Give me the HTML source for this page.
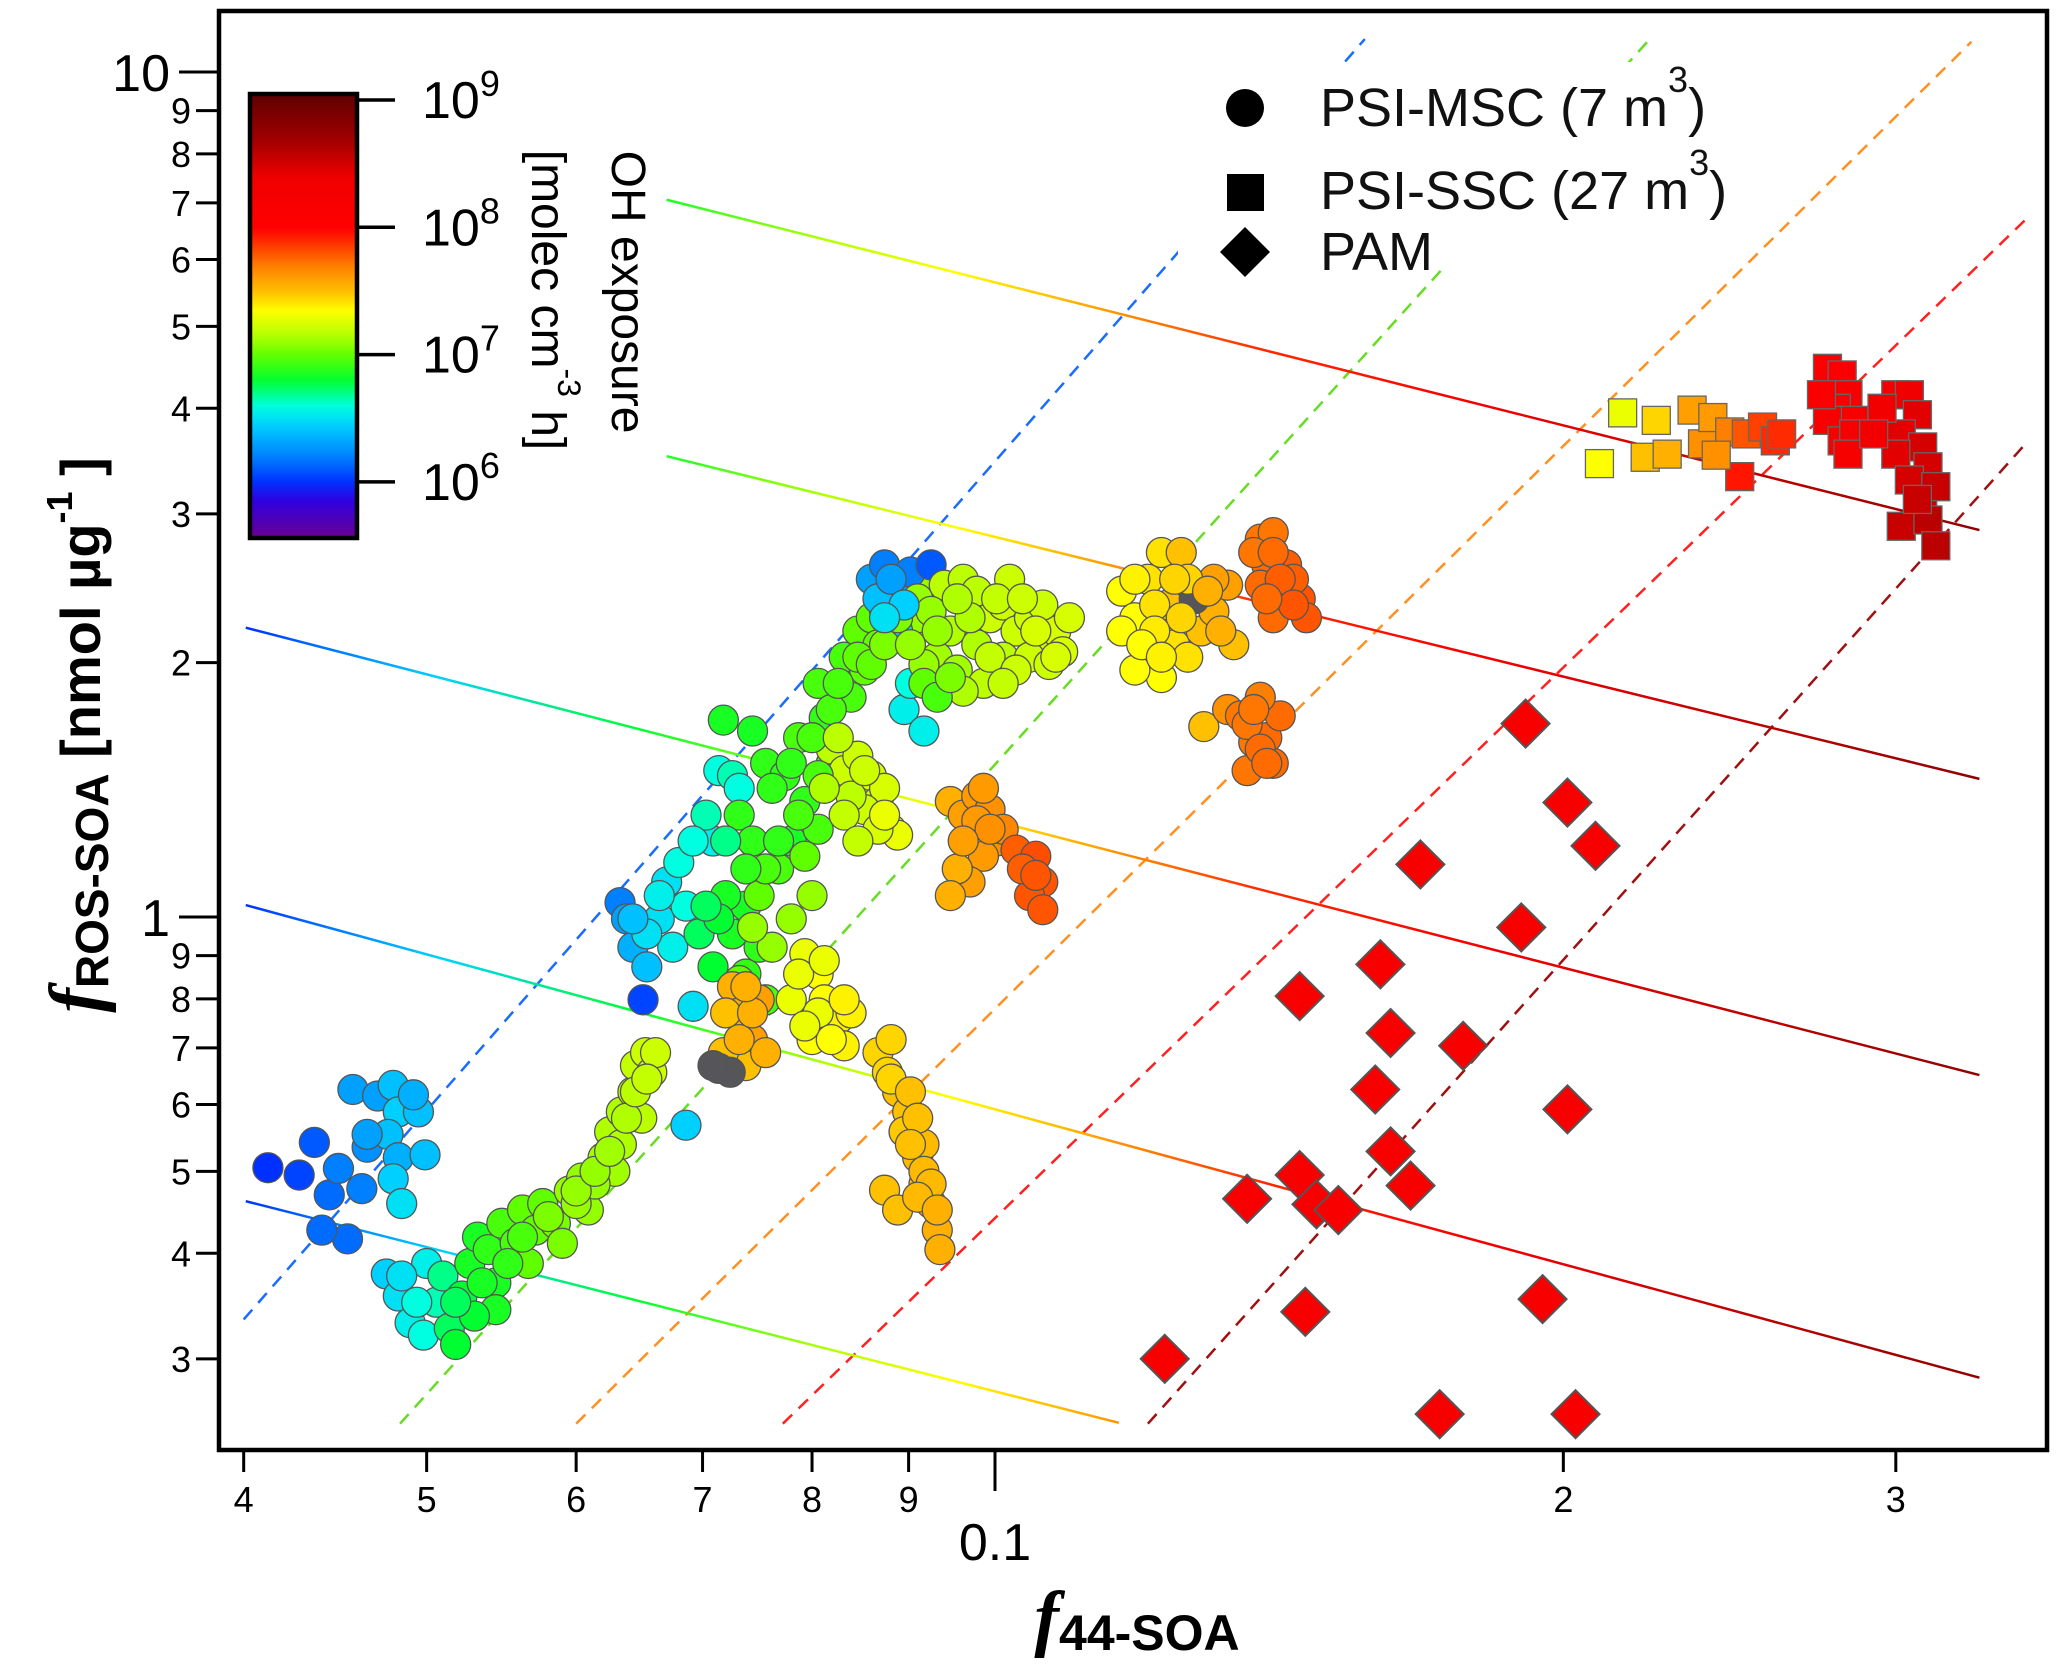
<!DOCTYPE html>
<html><head><meta charset="utf-8"><style>
html,body{margin:0;padding:0;background:#fff;}
svg{display:block;font-family:"Liberation Sans",sans-serif;}
</style></head><body>
<svg id="chart" width="2067" height="1664" viewBox="0 0 2067 1664" xmlns="http://www.w3.org/2000/svg">
<defs>
<clipPath id="plotclip"><rect x="221" y="13" width="1824" height="1435"/></clipPath>
<linearGradient id="cbgrad" x1="0" y1="1" x2="0" y2="0"></linearGradient>
<linearGradient id="linegrad" gradientUnits="userSpaceOnUse" x1="245" y1="0" x2="1990" y2="0"></linearGradient>
</defs>
<rect x="0" y="0" width="2067" height="1664" fill="#fff"/>
<g id="lines" clip-path="url(#plotclip)"></g>
<rect x="1178" y="62" width="544" height="205" fill="#fff"/>
<g id="points" clip-path="url(#plotclip)"></g>
<rect x="219" y="11" width="1828" height="1439" fill="none" stroke="#000" stroke-width="4.5"/>
<g id="xaxis"></g>
<g id="yaxis"></g>
<text x="1137" y="1642" text-anchor="middle"><tspan font-family="Liberation Serif,serif" font-style="italic" font-weight="bold" font-size="74">f</tspan><tspan font-weight="bold" font-size="50" dy="8">44-SOA</tspan></text>
<text transform="translate(100,735) rotate(-90)" text-anchor="middle" font-weight="bold"><tspan font-family="Liberation Serif,serif" font-style="italic" font-size="74">f</tspan><tspan font-size="46" dy="8">ROS-SOA</tspan><tspan font-size="56" dy="-8"> [nmol µg</tspan><tspan font-size="36" dy="-28">-1</tspan><tspan font-size="56" dy="28"> ]</tspan></text>
<g id="colorbar"></g>
<text transform="translate(612,292) rotate(90)" text-anchor="middle" font-size="48" fill="#000">OH exposure</text>
<text transform="translate(532,300) rotate(90)" text-anchor="middle" font-size="48" fill="#000">[molec cm<tspan font-size="32" dy="-26">-3</tspan><tspan dy="26"> h]</tspan></text>
<g>
<circle cx="1245" cy="108" r="19" fill="#000"/>
<text x="1320" y="126" font-size="54" fill="#111">PSI-MSC (7 m<tspan font-size="36" dy="-34">3</tspan><tspan dy="34">)</tspan></text>
<rect x="1227" y="174" width="37" height="37" fill="#000"/>
<text x="1320" y="209" font-size="54" fill="#111">PSI-SSC (27 m<tspan font-size="36" dy="-34">3</tspan><tspan dy="34">)</tspan></text>
<polygon points="1245,227 1270,252 1245,277 1220,252" fill="#000"/>
<text x="1320" y="270" font-size="54" fill="#111">PAM</text>
</g>
</svg>
<script>
// ---- data ----
const xTicks = [0.04,0.05,0.06,0.07,0.08,0.09,0.1,0.2,0.3];
const xTickLabels = ['4','5','6','7','8','9','0.1','2','3'];
const yTicks = [0.3,0.4,0.5,0.6,0.7,0.8,0.9,1,2,3,4,5,6,7,8,9,10];
const yTickLabels = ['3','4','5','6','7','8','9','1','2','3','4','5','6','7','8','9','10'];
const cbTicks = [6,7,8,9];
const cbTickLabels = ['6','7','8','9'];

const mscF44Main = [
.0412,.0428,.0436,.0444,.0449,.0454,.0440,.0462,.0465,.0457,.0471,.0480,.0483,.0477,.0483,.0480,.0485,.0495,.0499,.0465,.0492,
.0476,.0483,.0490,.0498,.0500,.0506,.0514,.0518,.0510,.0522,.0527,.0532,.0539,.0544,.0548,.0557,.0562,.0571,.0576,.0585,.0595,.0604,.0609,.0620,.0625,.0634,.0634,.0643,.0645,.0653,.0658,.0661,.0650,.0629,.0590,.0566,.0544,.0614,.0600,.0530,.0494,
.0633,.0638,.0643,.0654,.0651,.0664,.0670,.0680,.0686,.0675,.0692,.0709,.0714,.0726,.0732,.0697,.0709,.0726,.0738,.0738,.0750,.0756,.0686,
.0718,.0744,.0756,.0774,.0787,.0793,.0780,.0768,.0806,.0812,.0819,.0832,.0846,.0860,.0874,.0888,.0902,.0910,.0917,.0839,.0853,.0867,.0793,.0800,.0750,.0780,.0762,.0744,.0732,.0806,
.0860,.0874,.0888,.0902,.0925,.0867,.0888,.0895,.0917,.0902,
.0940,.0962,.0978,.0994,.1010,.1026,.1043,.1060,.1077,.1086,.0947,.0978,.1010,.1043,.1068,.0932,.0955,.0917,.1018,.1060,.0986,.0962,
.0819,.0832,.0846,.0860,.0867,.0881,.0888,.0874,.0853,.0839,
.0726,.0732,.0744,.0738,.0750,.0756,.0718,.0714,.0724,.0709,
.0793,.0806,.0812,.0826,.0832,.0800,.0806,.0839,.0780,
.0867,.0877,.0888,.0899,.0902,.0910,.0917,.0925,.0932,.0935,.0874,.0888,.0895,.0917,.0881,
.0947,.0962,.0978,.0994,.1002,.0986,.0970,.0955,.0947,.1010,.1026,.1051,.1060,.1043,.1060,
.1167,.1186,.1205,.1225,.1235,.1245,.1205,.1225,.1265,.1286,.1306,.1328,.1306,.1338,.1275,.1186,.1255,.1167,.1265,
.1382,.1404,.1393,.1427,.1416,.1451,.1462,.1404,.1382,.1439,
.1290,.1328,.1349,.1371,.1393,.1404,.1360,.1416,.1382];
const mscFrosMain = [
.505,.495,.541,.469,.504,.416,.426,.477,.534,.625,.614,.632,.588,.553,.519,.490,.458,.588,.523,.553,.616,
.378,.356,.331,.320,.389,.350,.326,.312,.376,.356,.389,.418,.404,.369,.434,.411,.450,.426,.458,.434,.474,.491,.450,.519,.557,.538,.588,.621,.667,.691,.655,.691,.578,.500,.411,.389,.343,.483,.458,.337,.350,
1.04,.995,.921,.873,.798,.995,1.10,1.16,1.03,.921,.784,1.23,1.49,1.47,1.42,.955,.873,.955,1.03,.856,.921,.798,.567,
1.71,1.66,1.52,1.47,1.63,1.37,1.23,1.14,1.89,1.72,1.52,2.03,2.18,2.26,2.30,2.38,2.47,2.26,2.51,1.82,1.96,2.10,1.18,1.06,1.06,.995,.921,.972,.841,1.27,
2.51,2.61,2.47,2.56,2.61,2.38,2.18,1.76,1.66,1.89,
2.47,2.51,2.43,2.26,2.34,2.18,2.26,2.10,2.18,2.06,2.18,2.10,2.03,2.03,1.99,2.03,1.96,1.99,2.51,2.34,1.89,1.85,
1.58,1.49,1.55,1.47,1.37,1.27,1.25,1.42,1.34,1.39,
.827,.770,.716,.667,.798,.691,.691,.662,.655,.667,
.905,.856,.798,.757,.704,.716,.770,.770,.798,
.691,.655,.621,.588,.557,.519,.483,.458,.426,.404,.475,.450,.557,.538,.716,
1.37,1.32,1.39,1.34,1.23,1.18,1.10,1.14,1.06,1.27,1.20,1.18,1.10,1.06,1.02,
2.43,2.26,2.51,2.70,2.34,2.10,2.03,1.92,2.03,2.18,2.30,2.47,2.51,2.10,2.38,1.96,2.70,2.18,2.51,
2.80,2.85,2.61,2.61,2.43,2.38,2.26,2.26,2.47,2.51,
1.68,1.76,1.73,1.61,1.63,1.52,1.49,1.73,1.82];
const mscExpMain = [
6.0,6.05,6.1,6.15,6.2,6.15,6.15,6.2,6.25,6.3,6.3,6.4,6.45,6.4,6.35,6.45,6.5,6.4,6.4,6.3,6.35,
6.45,6.5,6.55,6.6,6.55,6.65,6.75,6.8,6.7,6.8,6.85,6.85,6.9,6.85,6.95,6.95,7.0,7.0,7.0,7.05,7.1,7.1,7.1,7.12,7.15,7.15,7.15,7.18,7.2,7.22,7.22,7.22,7.18,7.12,7.05,7.0,6.85,7.1,7.1,6.8,6.6,
6.2,6.3,6.35,6.4,6.05,6.5,6.5,6.6,6.6,6.55,6.5,6.55,6.6,6.65,6.6,6.75,6.8,6.85,6.85,6.9,6.9,6.95,6.45,
6.85,6.85,6.9,6.9,6.95,6.9,6.85,6.95,6.95,6.9,6.95,6.95,7.0,7.0,7.0,7.0,7.05,7.1,7.1,6.95,7.0,7.0,7.0,7.1,7.0,7.1,7.1,7.1,7.0,6.95,
6.3,6.2,6.3,6.2,6.1,6.4,6.5,6.55,6.55,6.6,
7.18,7.18,7.18,7.22,7.22,7.22,7.22,7.25,7.25,7.25,7.15,7.15,7.18,7.22,7.22,7.12,7.12,7.1,7.22,7.22,7.18,7.15,
7.18,7.22,7.22,7.25,7.25,7.3,7.3,7.25,7.22,7.18,
7.55,7.55,7.6,7.5,7.6,7.55,7.5,-1,-1,-1,
7.3,7.35,7.35,7.38,7.38,7.35,7.3,7.38,7.3,
7.45,7.45,7.5,7.5,7.5,7.52,7.52,7.55,7.55,7.55,7.5,7.5,7.48,7.52,7.45,
7.55,7.6,7.62,7.65,7.65,7.62,7.6,7.55,7.55,7.68,7.78,7.82,7.8,7.8,7.8,
7.35,7.35,7.42,7.42,7.5,7.42,7.35,7.35,7.42,7.5,7.55,7.6,7.6,7.5,-1,7.35,7.5,7.35,7.45,
7.72,7.72,7.75,7.78,7.78,7.8,7.8,7.75,7.75,7.78,
7.5,7.65,7.72,7.72,7.75,7.75,7.72,7.75,7.7];

const mscF44Extra = [
.0732,.0744,.0762,.0780,.0800,.0819,.0826,.0846,.0860,.0874,.0888,.0910,.0925,.0932,.0902,.0917,.0932,.0947,.0806,.0787,.0768,.0756,.0738,.0720,.0714,.0703,.0720,.0703,.0692,.0664,.0654,.0643,
.0994,.1026,.1051,.1077,.1095,.1002,.0970,.0955,.1034,.1010,
.0826,.0853,.0867,.0874,.0832,.0812,.0846,
.0732,.0720,.0744,.0738,
.0787,.0819,.0793,.0832,.0812,
.0881,.0902,.0910,.0917,.0925,.0910,.0932,.0902,
.0562,.0580,.0600,.0614,.0625,.0638,.0645,.0654,.0552,.0535,.0518,.0485,
.0978,.0994,.0962,.1034,.1051,.0986,
.1371,.1404,.1416,.1439,.1393,
.1360,.1382,.1393,.1371,
.1186,.1215,.1245,.1255,.1215,.1196,.1225,.1296,.1317,
.0881,.0895,.0874];
const mscFrosExtra = [
1.32,1.23,1.42,1.52,1.63,1.76,1.89,2.03,1.99,2.10,2.26,2.38,2.30,2.18,2.10,1.89,1.82,1.92,1.47,1.32,1.23,1.14,1.14,1.06,.995,1.03,1.23,1.32,1.23,1.06,.955,.995,
2.03,1.96,2.18,2.03,2.26,2.38,2.26,2.38,2.38,1.89,
1.63,1.49,1.27,1.32,1.32,1.42,1.23,
.716,.770,.770,.827,
.856,.716,.743,.798,.888,
.643,.621,.578,.500,.483,.466,.450,.538,
.418,.442,.474,.500,.528,.578,.621,.643,.389,.369,.350,.376,
1.30,1.27,1.23,1.14,1.12,1.42,
2.70,2.70,2.51,2.34,2.38,
1.69,1.58,1.52,1.76,
2.51,2.34,2.51,2.26,2.18,2.10,2.03,2.43,2.18,
2.51,2.34,2.26];
const mscExpExtra = [
6.9,6.9,6.9,6.9,6.95,6.95,6.95,7.0,7.0,7.05,7.05,7.1,7.1,7.1,7.1,7.0,6.95,7.05,6.95,6.95,6.9,6.95,6.9,6.85,6.8,6.75,6.7,6.65,6.6,6.55,6.5,6.4,
7.2,7.22,7.25,7.25,7.25,7.2,7.15,7.15,7.22,7.2,
7.18,7.22,7.25,7.3,7.2,7.15,7.2,
7.55,7.5,7.55,7.55,
7.3,7.35,7.3,7.38,7.3,
7.45,7.5,7.5,7.52,7.52,7.52,7.55,7.5,
6.95,7.05,7.1,7.1,7.12,7.15,7.18,7.2,6.9,6.85,6.75,6.5,
7.62,7.65,7.6,7.78,7.8,7.62,
7.72,7.75,7.78,7.8,7.75,
7.72,7.75,7.75,7.72,
7.38,7.42,7.45,7.45,7.4,7.35,7.38,7.55,7.55,
6.3,6.45,6.5];

const mscF44 = mscF44Main.concat(mscF44Extra);
const mscFros = mscFrosMain.concat(mscFrosExtra);
const mscExp = mscExpMain.concat(mscExpExtra);

const sscF44 = [.215,.209,.224,.221,.227,.234,.237,.240,.245,.250,.255,.259,.248,.241,.261,
.276,.281,.283,.279,.285,.276,.281,.285,.283,.274,
.300,.305,.308,.302,.310,.312,.300,.305,.310,.315,.302,.312,.315,.308,.295,.292];
const sscFros = [3.95,3.44,3.87,3.50,3.53,3.98,3.63,3.90,3.75,3.73,3.80,3.66,3.32,3.52,3.73,
4.46,4.38,4.15,4.00,3.87,3.87,3.66,3.73,3.53,4.15,
4.15,4.15,3.93,3.73,3.60,3.41,3.53,3.29,3.12,3.23,2.90,2.95,2.75,3.12,4.00,3.73];
const sscExp = [7.3,7.35,7.45,7.5,7.55,7.6,7.65,7.62,7.7,7.8,7.85,7.9,7.95,7.65,7.9,
8.1,8.1,8.15,8.2,8.2,8.15,8.25,8.25,8.25,8.1,
8.35,8.4,8.45,8.45,8.5,8.5,8.45,8.5,8.55,8.55,8.55,8.6,8.6,8.55,8.35,8.35];

const pamF44 = [.191,.201,.208,.168,.190,.160,.145,.162,.177,.159,.201,.162,.145,.166,.136,.148,.152,.146,.195,.123,.172,.203];
const pamFros = [1.694,1.366,1.214,1.154,.972,.879,.806,.729,.704,.625,.592,.528,.495,.481,.464,.457,.450,.341,.353,.300,.258,.258];
const pamExp = [8.2,8.2,8.2,8.2,8.2,8.2,8.2,8.2,8.2,8.2,8.2,8.2,8.2,8.2,8.2,8.2,8.2,8.2,8.2,8.2,8.2,8.2];

const solidX0 = [0.0670,0.0670,0.0401,0.0401,0.0401];
const solidY0 = [7.06,3.51,2.20,1.033,0.461];
const solidX1 = [0.3322,0.3322,0.3322,0.3322,0.1163];
const solidY1 = [2.87,1.457,0.650,0.285,0.252];
const dashX0 = [0.0400,0.0484,0.0600,0.0772,0.1205];
const dashY0 = [0.334,0.2514,0.2514,0.2514,0.2514];
const dashX1 = [0.157,0.2216,0.329,0.351,0.351];
const dashY1 = [10.94,10.86,10.86,6.67,3.62];
const dashColors = ['#1a6cff','#66dd22','#ff9020','#ff2020','#a01010'];

// ---- scales ----
const NS = 'http://www.w3.org/2000/svg';
function X(v){return 995+1888*Math.log10(v/0.1);}
function Y(v){return 917-845*Math.log10(v);}
function CBY(e){return 100+(9-e)*127.3;}
const cmStops = [[5.56,[106,0,144]],[5.85,[48,0,224]],[6.0,[0,48,255]],[6.2,[0,128,255]],[6.45,[0,208,255]],[6.6,[0,255,224]],[6.8,[0,255,48]],[7.0,[96,255,0]],[7.15,[176,255,0]],[7.35,[255,255,0]],[7.5,[255,192,0]],[7.7,[255,128,0]],[7.85,[255,64,0]],[8.0,[255,0,0]],[8.4,[240,0,0]],[8.7,[160,0,0]],[9.05,[96,0,0]]];
function cmap(e){
  if(e<0) return '#55555a';
  if(e<=cmStops[0][0]) e=cmStops[0][0];
  for(let i=1;i<cmStops.length;i++){
    if(e<=cmStops[i][0]){
      const a=cmStops[i-1],b=cmStops[i],t=(e-a[0])/(b[0]-a[0]);
      const c=a[1].map((v,k)=>Math.round(v+(b[1][k]-v)*t));
      return 'rgb('+c.join(',')+')';
    }
  }
  return 'rgb(96,0,0)';
}
function mk(tag,attrs,parent){const el=document.createElementNS(NS,tag);for(const k in attrs)el.setAttribute(k,attrs[k]);parent.appendChild(el);return el;}

const cbg=document.getElementById('cbgrad');
for(let e=5.56;e<=9.06;e+=0.05){
  mk('stop',{offset:((e-5.56)/3.5).toFixed(4),'stop-color':cmap(e)},cbg);
}
const lgExp=[[245,6.0],[437,6.45],[636,6.8],[822,7.15],[954,7.35],[1100,7.6],[1259,7.9],[1457,8.2],[1987,8.8]];
const lg=document.getElementById('linegrad');
lgExp.forEach(p=>{mk('stop',{offset:((p[0]-245)/(1990-245)).toFixed(4),'stop-color':cmap(p[1])},lg);});

const lines=document.getElementById('lines');
for(let i=0;i<dashX0.length;i++){
  const l=mk('line',{x1:X(dashX0[i]),y1:Y(dashY0[i]),x2:X(dashX1[i]),y2:Y(dashY1[i]),stroke:dashColors[i],'stroke-width':2.5,'stroke-dasharray':'13 9',fill:'none'},lines);
  
  
}
for(let i=0;i<solidX0.length;i++){
  const l=mk('line',{x1:X(solidX0[i]),y1:Y(solidY0[i]),x2:X(solidX1[i]),y2:Y(solidY1[i]),stroke:'url(#linegrad)','stroke-width':2.5},lines);
  
  
}

const pts=document.getElementById('points');
for(let i=0;i<mscF44.length;i++){
  const c=mk('circle',{cx:X(mscF44[i]),cy:Y(mscFros[i]),r:15,fill:cmap(mscExp[i]),stroke:'#555','stroke-width':1.3},pts);
  
  
}
for(let i=0;i<sscF44.length;i++){
  const x=X(sscF44[i]),y=Y(sscFros[i]);
  const r=mk('rect',{x:x-14,y:y-14,width:28,height:28,fill:cmap(sscExp[i]),stroke:'#666','stroke-width':1.3},pts);
  
  
}
for(let i=0;i<pamF44.length;i++){
  const x=X(pamF44[i]),y=Y(pamFros[i]);
  const p=mk('polygon',{points:`${x},${y-24} ${x+24},${y} ${x},${y+24} ${x-24},${y}`,fill:cmap(pamExp[i]),stroke:'#555','stroke-width':2},pts);
  
  
}

const xa=document.getElementById('xaxis');
xTicks.forEach((v,i)=>{
  const x=X(v), major=(v===0.1);
  const t=mk('line',{x1:x,y1:1450,x2:x,y2:major?1491:1472,stroke:'#000','stroke-width':3},xa);
  
  
  const lb=mk('text',{x:x,y:major?1560:1512,'text-anchor':'middle','font-size':major?52:36,fill:'#000'},xa);
  lb.textContent=xTickLabels[i];
  
  
});
const ya=document.getElementById('yaxis');
yTicks.forEach((v,i)=>{
  const y=Y(v), major=(v===1||v===10);
  const t=mk('line',{x1:major?179:196,y1:y,x2:219,y2:y,stroke:'#000','stroke-width':3},ya);
  
  
  const lb=mk('text',{x:major?170:191,y:major?y+19:y+13,'text-anchor':'end','font-size':major?52:36,fill:'#000'},ya);
  lb.textContent=yTickLabels[i];
  
  
});
const cb=document.getElementById('colorbar');
const cbr=mk('rect',{x:250,y:94,width:107,height:444,fill:'url(#cbgrad)',stroke:'#000','stroke-width':4.5},cb);


cbTicks.forEach((e,i)=>{
  const y=CBY(e);
  const t=mk('line',{x1:357,y1:y,x2:395,y2:y,stroke:'#000','stroke-width':3.5},cb);
  
  
  const lb=mk('text',{x:422,y:y+18,'font-size':52,fill:'#000'},cb);
  
  
  lb.textContent='10';
  const sp=mk('tspan',{'font-size':36,dy:-22},lb);
  sp.textContent=cbTickLabels[i];
});
</script>
</body></html>
